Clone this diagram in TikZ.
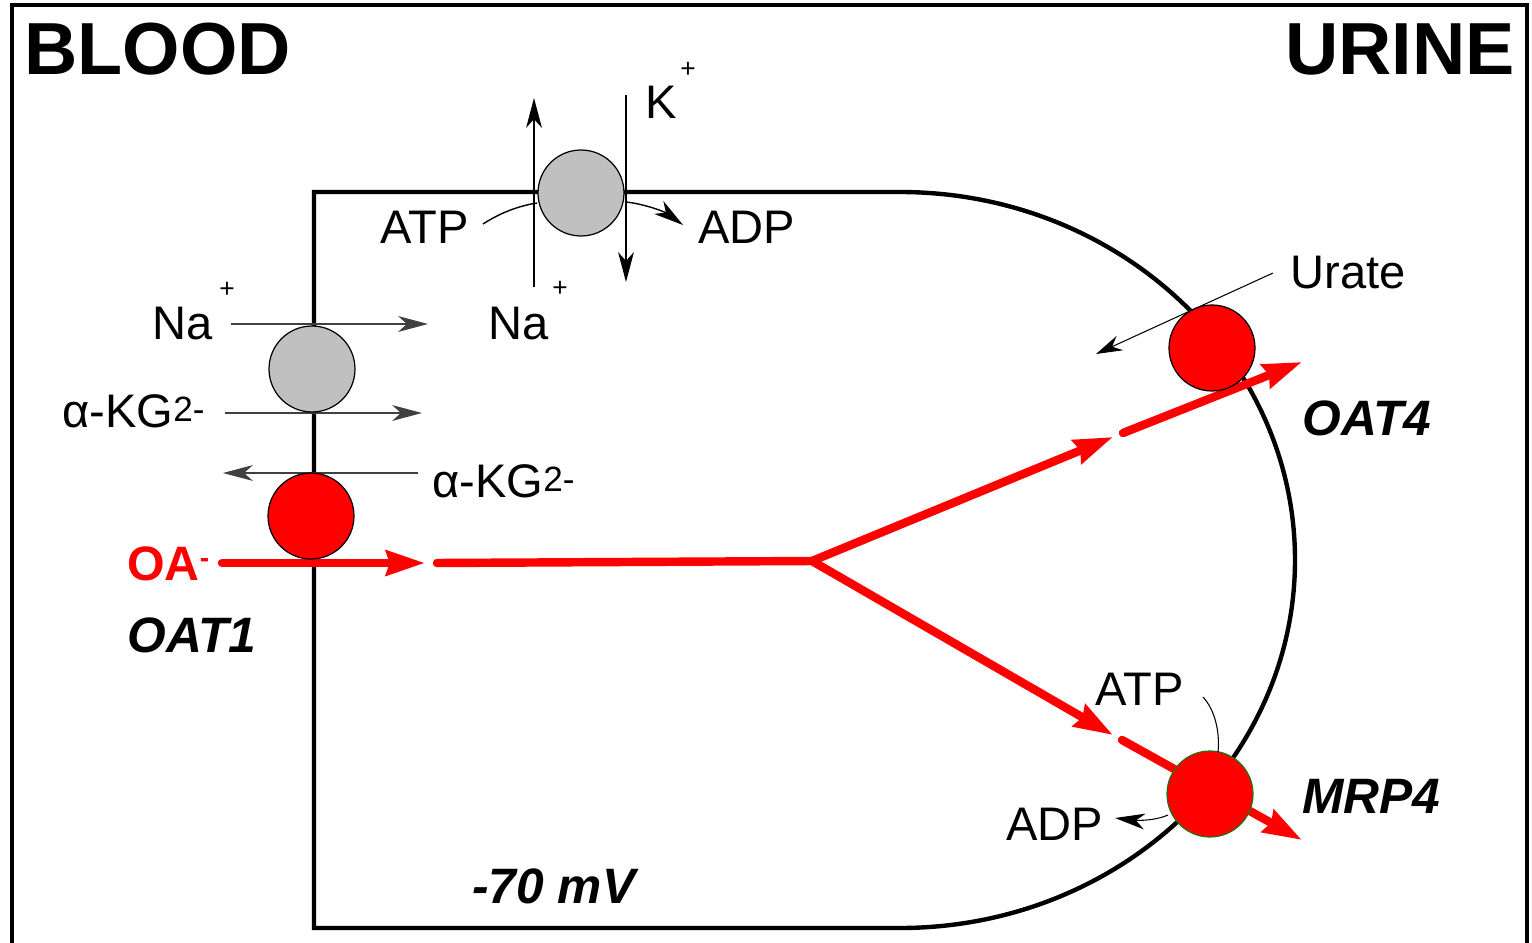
\documentclass[tikz,border=0pt]{standalone}
\usepackage{fontspec}
\setmainfont{Liberation Sans}
\usetikzlibrary{arrows.meta}
\definecolor{pumpgray}{RGB}{192,192,192}
\definecolor{oared}{RGB}{255,0,0}
\definecolor{mrpgreen}{RGB}{40,110,20}
\begin{document}
\begin{tikzpicture}[x=0.02cm,y=-0.02cm,
  frameline/.style={line width=2.4pt},
  cellline/.style={line width=2.5pt, line join=miter},
  thinarrow/.style={line width=0.8pt, -{Stealth[length=17pt,width=9pt,inset=5pt]}},
  thinline/.style={line width=0.8pt},
  redflow/.style={oared, line width=4.8pt, line cap=round, line join=round},
  redarrow/.style={redflow, -{Stealth[length=22pt,width=14pt,inset=2pt]}},
  transporter/.style={circle, draw, line width=0.7pt, minimum size=1.72cm, inner sep=0pt},
  lbl/.style={anchor=base west, inner sep=0pt, font=\fontsize{26.8}{27}\selectfont},
  blbl/.style={anchor=base west, inner sep=0pt, font=\fontsize{28.3}{29}\selectfont\bfseries\itshape},
  plussign/.style={inner sep=0pt, font=\fontsize{15}{15}\selectfont},
  title/.style={anchor=base west, inner sep=0pt, font=\fontsize{42}{42}\selectfont\bfseries},
]
\useasboundingbox (0,0) rectangle (1532,943);
% outer frame
\draw[frameline] (12,960) -- (12,5) -- (1527,5) -- (1527,960);
% cell outline
\draw[cellline] (314,192) -- (314,928) -- (900,928)
  .. controls (1118,928) and (1295,763) .. (1295,560)
  .. controls (1295,357) and (1118,192) .. (900,192) -- cycle;

% coordinates
\coordinate (upS) at (534,287);
\coordinate (upE) at (534,98);
\coordinate (dnS) at (626,95);
\coordinate (dnE) at (626,282);
\coordinate (atpTe) at (483,224);
\coordinate (atpTs) at (537,203);
\coordinate (adpTs) at (626,202);
\coordinate (adpTe) at (683,225);
\coordinate (naL) at (231,324);
\coordinate (naR) at (428,324);
\coordinate (kgL) at (225,413);
\coordinate (kgR) at (422,413);
\coordinate (kg2R) at (418,473);
\coordinate (kg2L) at (223,473);
\coordinate (oaS) at (222,563);
\coordinate (oaE) at (425,563);
\coordinate (segS) at (437,563);
\coordinate (branch) at (812,561);
\coordinate (upA) at (1113,437);
\coordinate (upB) at (1123,433);
\coordinate (upTip) at (1302,362);
\coordinate (lowA) at (1113,735);
\coordinate (lowB) at (1122,740);
\coordinate (lowTip) at (1302,840);
\coordinate (urS) at (1273,273);
\coordinate (urE) at (1096,354);
\coordinate (atpMs) at (1203,697);
\coordinate (atpMe) at (1218,752);
\coordinate (adpMs) at (1168,815);
\coordinate (adpMe) at (1115,818);

% pump fluxes
\draw[thinarrow] (upS) -- (upE);
\draw[thinarrow] (dnS) -- (dnE);
\draw[thinline] (atpTe) .. controls (500,213) and (518,206) .. (atpTs);
\draw[thinarrow] (adpTs) .. controls (645,204) and (665,212) .. (adpTe);
% basolateral fluxes
\draw[thinarrow, black!75] (naL) -- (naR);
\draw[thinarrow, black!75] (kgL) -- (kgR);
\draw[thinarrow, black!75] (kg2R) -- (kg2L);

% red organic anion flow
\draw[redarrow] (oaS) -- (oaE);
\draw[redflow] (segS) -- (branch);
\draw[redarrow] (branch) -- (upA);
\draw[redarrow] (branch) -- (lowA);
\draw[redarrow] (upB) -- (upTip);
\draw[redarrow] (lowB) -- (lowTip);

% transporters
\node[transporter, fill=pumpgray] (pump) at (581,193) {};
\node[transporter, fill=pumpgray] (nadc) at (312,369) {};
\node[transporter, fill=oared] (oat1) at (311,516) {};
\node[transporter, fill=oared] (oat4) at (1212,348) {};
\node[transporter, fill=oared, draw=mrpgreen] (mrp4) at (1210,794) {};

% apical fluxes
\draw[thinline, -{Stealth[length=15pt,width=9pt,inset=5pt]}, line width=0.6pt] (urS) -- (urE);
\draw[thinline, line width=0.6pt] (atpMs) .. controls (1215,710) and (1220,732) .. (atpMe);
\draw[thinarrow, line width=0.6pt] (adpMs) .. controls (1152,822) and (1132,820) .. (adpMe);

% labels
\node[title] (blood) at (24,74) {BLOOD};
\node[title] (urine) at (1285,74) {URINE};
\node[lbl] (kp) at (645,118) {K};
\node[plussign] (kpp) at (688,70) {+};
\node[lbl] (atpT) at (380,243) {ATP};
\node[lbl] (adpT) at (698,243) {ADP};
\node[lbl] (naRt) at (488,339) {Na};
\node[plussign] (naRtp) at (560,289) {+};
\node[lbl] (naLt) at (152,339) {Na};
\node[plussign] (naLtp) at (227,290) {+};
\node[lbl] (kgLt) at (62,427) {α-KG\raisebox{3pt}{\fontsize{20}{20}\selectfont 2-}};
\node[lbl] (kgRt) at (432,497) {α-KG\raisebox{3pt}{\fontsize{20}{20}\selectfont 2-}};
\node[lbl, text=oared, font=\fontsize{27.5}{28}\selectfont\bfseries] (oat) at (127,580) {OA\raisebox{7pt}{\fontsize{16}{16}\selectfont -}};
\node[blbl] (oat1t) at (127,652) {OAT1};
\node[lbl] (uratet) at (1290,288) {Urate};
\node[blbl] (oat4t) at (1302,435) {OAT4};
\node[lbl] (atpMt) at (1095,705) {ATP};
\node[lbl] (adpMt) at (1006,840) {ADP};
\node[blbl] (mrp4t) at (1302,813) {MRP4};
\node[blbl] (mv) at (472,903) {-70 mV};
\end{tikzpicture}
\end{document}
